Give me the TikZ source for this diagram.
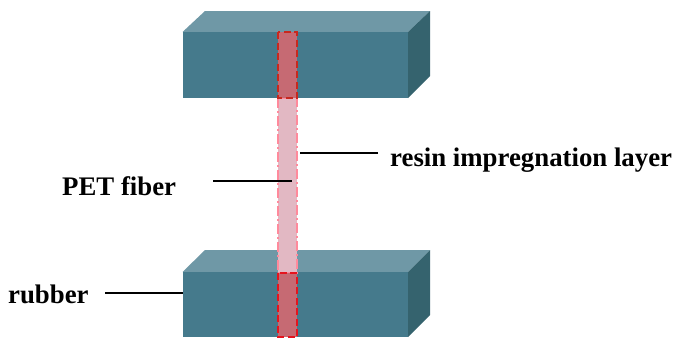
\documentclass[tikz,border=0pt]{standalone}
\usepackage{fontspec}
\setmainfont{Liberation Serif}
\definecolor{frontc}{HTML}{457A8C}
\definecolor{topc}{HTML}{6F98A6}
\definecolor{sidec}{HTML}{35636E}
\definecolor{coreRed}{HTML}{C66A73}
\definecolor{fiberPink}{HTML}{E2B8C3}
\definecolor{dashRed}{HTML}{E5141E}
\definecolor{dashDark}{HTML}{C8281E}
\definecolor{dashPink}{HTML}{FF8A9C}
\tikzset{
  front/.style={fill=frontc,draw=none},
  topface/.style={fill=topc,draw=none},
  sideface/.style={fill=sidec,draw=none},
  core/.style={fill=coreRed,draw=dashRed,line width=2pt,dash pattern=on 7pt off 3.5pt},
  fiber/.style={fill=fiberPink,draw=dashPink,line width=1.8pt,dash pattern=on 10pt off 3pt on 2pt off 3pt},
  leader/.style={draw=black,line width=1.4pt},
  lab/.style={font=\fontsize{26.8}{30}\selectfont\bfseries,inner sep=0pt,anchor=base west,text=black}
}
\begin{document}
\begin{tikzpicture}[x=1pt,y=-1pt]
\useasboundingbox (0,0) rectangle (680,354);
% upper block
\fill[topface] (182.5,32) -- (205,11) -- (430,11) -- (408,32) -- cycle;
\fill[sideface] (408,32) -- (430,11) -- (430,76) -- (408,98) -- cycle;
\fill[front] (182.5,32) rectangle (408,98);
% lower block
\fill[topface] (182.5,272) -- (205,250) -- (430,250) -- (408,272) -- cycle;
\fill[sideface] (408,272) -- (430,250) -- (430,315) -- (408,337) -- cycle;
\fill[front] (182.5,272) rectangle (408,337);
% fibre and its embedded ends
\path[fiber] (278,98) rectangle (297,273);
\path[core,draw=dashDark] (278,32) rectangle (297,98);
\path[core] (278,273) rectangle (297,337);
% labels
\node[lab] (resin) at (390,166.5) {resin impregnation layer};
\node[lab] (pet) at (62,195) {PET fiber};
\node[lab] (rub) at (8,303.5) {rubber};
% leader lines
\coordinate (resinA) at (378,153);
\coordinate (resinB) at (300,153);
\coordinate (petA) at (213,181);
\coordinate (petB) at (292,181);
\coordinate (rubA) at (105,293);
\coordinate (rubB) at (182.5,293);
\draw[leader] (resinA) -- (resinB);
\draw[leader] (petA) -- (petB);
\draw[leader] (rubA) -- (rubB);
\end{tikzpicture}
\end{document}
